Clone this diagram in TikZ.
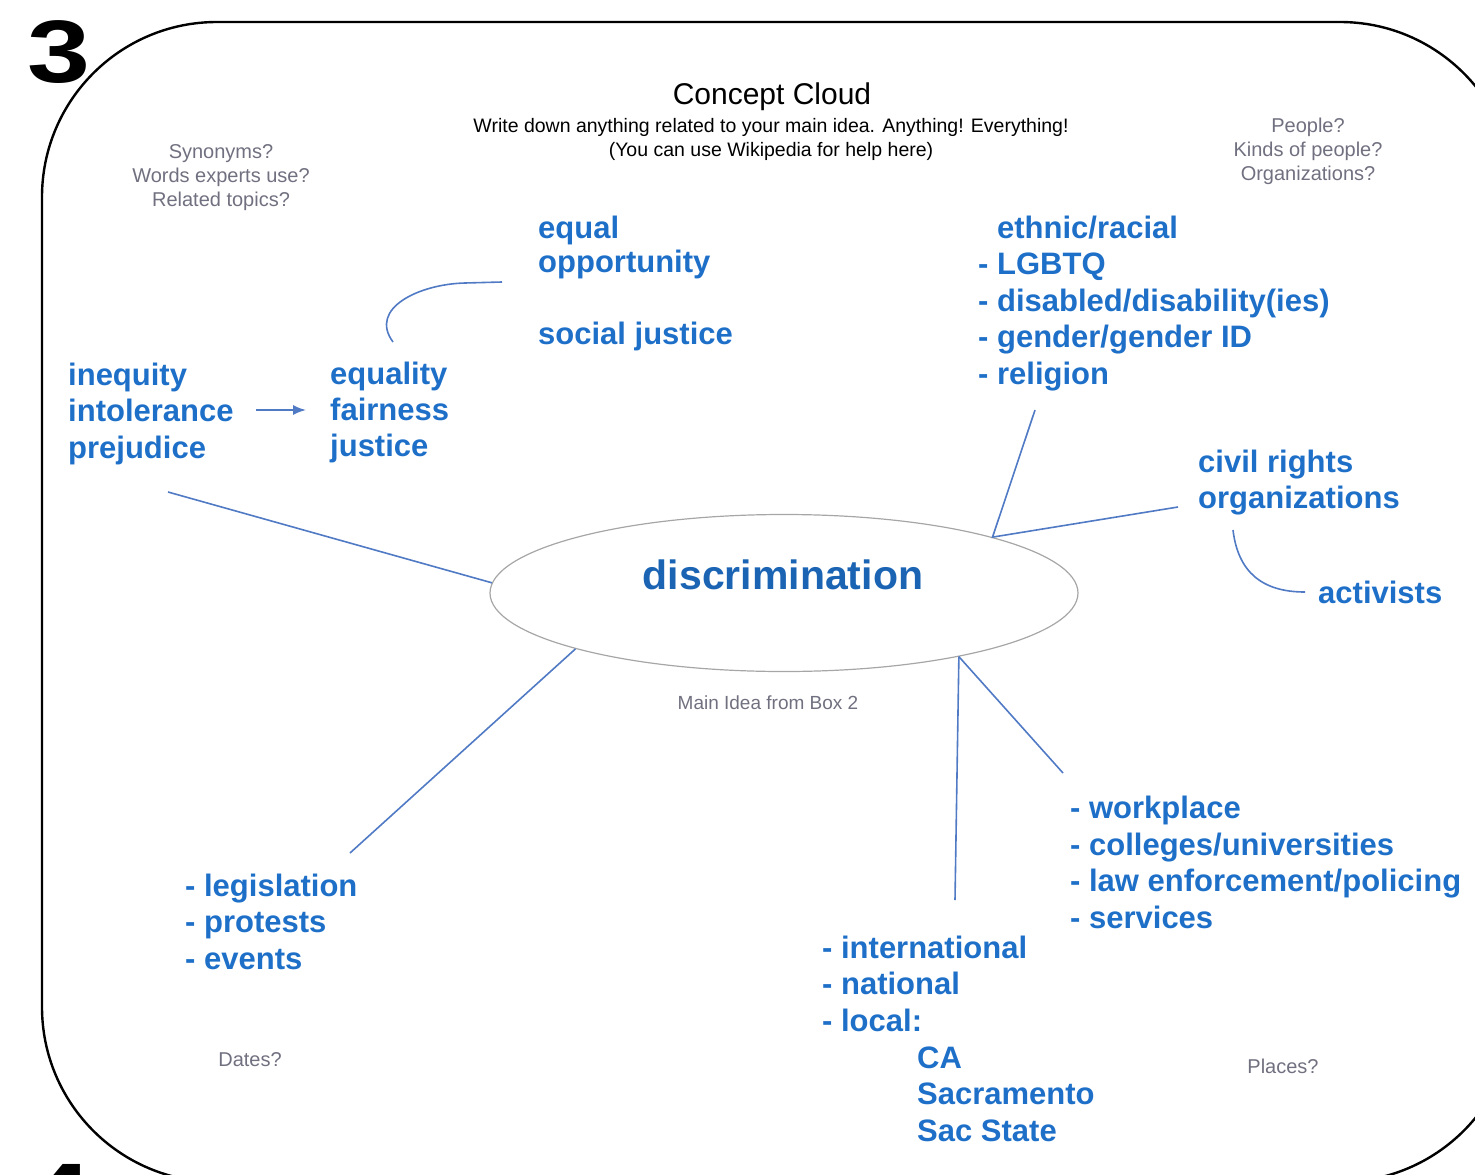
\documentclass[tikz,border=0pt]{standalone}
\usepackage{fontspec}
\setmainfont{Liberation Sans}
\usetikzlibrary{shapes,arrows.meta}
\definecolor{ideablue}{RGB}{30,111,200}
\definecolor{linkblue}{RGB}{80,122,196}
\definecolor{hintgray}{RGB}{112,112,128}
\tikzset{
  idea/.style={anchor=base west,inner sep=0pt,align=left,text=ideablue,font=\fontsize{31}{36.5}\selectfont\bfseries},
  hint/.style={align=center,inner sep=0pt,text=hintgray,font=\fontsize{20}{24}\selectfont},
  link/.style={draw=linkblue,line width=1.6pt},
  boxno/.style={anchor=base west,inner sep=0pt,font=\fontsize{87}{87}\selectfont\bfseries},
}

\begin{document}
\begin{tikzpicture}[x=1pt,y=-1pt]
  \useasboundingbox (0,0) rectangle (1475,1175);
  % frame and box numbers
  \draw[line width=2.4pt,rounded corners=175pt] (42,22) rectangle (1515,1182);
  \node[boxno] (boxnum) at (27,82) {\scalebox{1.3}[1.02]{3}};
  \node[boxno] (nextnum) at (28,1225) {\scalebox{1.3}[1.02]{4}};

  % heading
  \node[font=\fontsize{30}{30}\selectfont] (title) at (772,97) {Concept Cloud};
  \node[align=center,inner sep=0pt,font=\fontsize{19.5}{24}\selectfont] (subtitle) at (771,139) {Write down anything related to your main idea. Anything! Everything!\\(You can use Wikipedia for help here)};

  % prompts
  \node[hint] (synonyms) at (221,178) {Synonyms?\\Words experts use?\\Related topics?};
  \node[hint] (people) at (1308,151) {People?\\Kinds of people?\\Organizations?};
  \node[hint] (dates) at (250,1060) {Dates?};
  \node[hint] (places) at (1283,1066) {Places?};
  \node[hint,font=\fontsize{19}{24}\selectfont] (boxtwo) at (768,703) {Main Idea from Box 2};

  % main idea
  \node[draw=gray!70,line width=1.2pt,shape=ellipse,minimum width=588pt,minimum height=157pt] (main) at (784,593) {};
  \node[text=ideablue!90!black,font=\fontsize{41}{41}\selectfont\bfseries] (disc) at (783,575) {discrimination};

  % ideas (placed by the baseline of their last line)
  \node[idea] (ineq) at (68,458) {inequity\\intolerance\\prejudice};
  \node[idea,font=\fontsize{31}{36}\selectfont\bfseries] (equality) at (330,456) {equality\\fairness\\justice};
  \node[idea,font=\fontsize{31}{34}\selectfont\bfseries] (eqop) at (538,272) {equal\\opportunity};
  \node[idea] (socjust) at (538,344) {social justice};
  \node[idea] (groups) at (978,384) {\phantom{- }ethnic/racial\\- LGBTQ\\- disabled/disability(ies)\\- gender/gender ID\\- religion};
  \node[idea,font=\fontsize{31}{36}\selectfont\bfseries] (civil) at (1198,508) {civil rights\\organizations};
  \node[idea] (activists) at (1318,603) {activists};
  \node[idea] (events) at (185,969) {- legislation\\- protests\\- events};
  \node[idea] (sites) at (1070,928) {- workplace\\- colleges/universities\\- law enforcement/policing\\- services};
  \node[idea] (levels) at (822,1031) {- international\\- national\\- local:};
  \node[idea] (local) at (917,1141) {CA\\Sacramento\\Sac State};

  % free ends of the connectors
  \coordinate (ineqend) at (168,492);
  \coordinate (arrowstart) at (256,410);
  \coordinate (arrowend) at (306,410);
  \coordinate (eqopend) at (502,282);
  \coordinate (equalend) at (393,342);
  \coordinate (groupsend) at (1035,410);
  \coordinate (civilend) at (1178,507);
  \coordinate (civilfoot) at (1233,530);
  \coordinate (activend) at (1305,592);
  \coordinate (eventsend) at (350,853);
  \coordinate (levelsend) at (955,900);
  \coordinate (sitesend) at (1063,773);

  % connectors
  \draw[link,-{Latex[length=13pt,width=10pt]}] (arrowstart) -- (arrowend);
  \draw[link] (eqopend) -- (465,283) .. controls (420,284) and (368,308) .. (equalend);
  \draw[link] (civilfoot) .. controls (1238,572) and (1262,592) .. (activend);
  \draw[link] (ineqend) -- (main.178);
  \draw[link] (groupsend) -- (main.15) -- (civilend);
  \draw[link] (main.195) -- (eventsend);
  \draw[link] (main.340) -- (levelsend);
  \draw[link] (main.340) -- (sitesend);
\end{tikzpicture}
\end{document}
